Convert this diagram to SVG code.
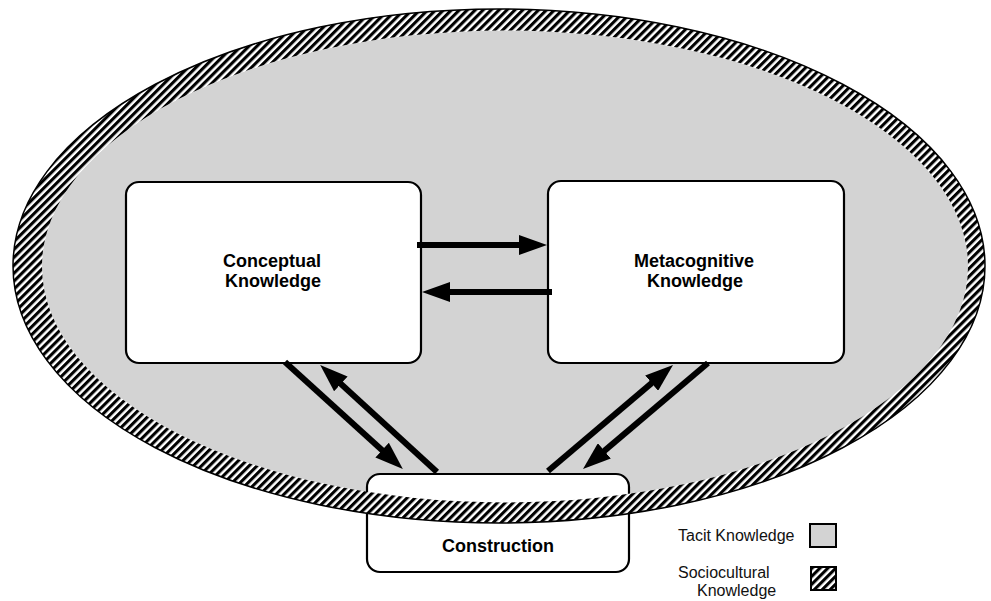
<svg xmlns="http://www.w3.org/2000/svg" width="991" height="601" viewBox="0 0 991 601">
  <defs>
    <!-- diagonal hatch for the sociocultural ring -->
    <pattern id="hatch" patternUnits="userSpaceOnUse" width="5.6" height="5.6" patternTransform="rotate(45)">
      <rect x="0" y="0" width="5.6" height="5.6" fill="#fff"/>
      <rect x="0" y="0" width="3.1" height="5.6" fill="#000"/>
    </pattern>
    <marker id="head" viewBox="0 0 28 20" markerWidth="28" markerHeight="20" refX="12" refY="10" orient="auto" markerUnits="userSpaceOnUse">
      <path d="M0,0 L28,10 L0,20 Z" fill="#000"/>
    </marker>
    <style>
      .box { fill: #fff; stroke: #000; stroke-width: 2.2; }
      .label { font-family: "Liberation Sans", Arial, sans-serif; font-weight: bold; font-size: 18px; fill: #000; text-anchor: middle; }
      .legend { font-family: "Liberation Sans", Arial, sans-serif; font-size: 16px; fill: #111; }
      .arrow { stroke: #000; stroke-width: 6; fill: none; marker-end: url(#head); }
    </style>
  </defs>

  <rect width="991" height="601" fill="#fff"/>

  <!-- tacit knowledge: grey interior -->
  <g id="tacit">
    <ellipse cx="505" cy="266.5" rx="463" ry="236" fill="#d3d3d3"/>
  </g>

  <!-- construction box sits under the hatched ring -->
  <g id="construction">
    <rect class="box" x="367" y="474" width="262" height="98" rx="13"/>
    <text class="label" x="498" y="552">Construction</text>
  </g>

  <!-- sociocultural knowledge: hatched ring -->
  <g id="sociocultural">
    <path fill="url(#hatch)" fill-rule="evenodd"
      d="M13,266 A486,257 0 1,0 985,266 A486,257 0 1,0 13,266 Z
         M42,266.5 A463,236 0 1,0 968,266.5 A463,236 0 1,0 42,266.5 Z"/>
    <ellipse cx="499" cy="266" rx="486" ry="257" fill="none" stroke="#000" stroke-width="1.5"/>
  </g>

  <g id="conceptual">
    <rect class="box" x="126" y="182" width="295" height="181" rx="13"/>
    <text class="label" x="272" y="267">Conceptual</text>
    <text class="label" x="273" y="287">Knowledge</text>
  </g>

  <g id="metacognitive">
    <rect class="box" x="548" y="181" width="296" height="182" rx="13"/>
    <text class="label" x="694" y="267">Metacognitive</text>
    <text class="label" x="695" y="287">Knowledge</text>
  </g>

  <g id="connectors">
    <line class="arrow" x1="417" y1="245" x2="531" y2="245"/>
    <line class="arrow" x1="552" y1="292" x2="438" y2="292"/>
    <line class="arrow" x1="285" y1="362" x2="391" y2="458.2"/>
    <line class="arrow" x1="437" y1="472" x2="332" y2="375.8"/>
    <line class="arrow" x1="548" y1="471" x2="660.8" y2="375.4"/>
    <line class="arrow" x1="708" y1="363" x2="595.2" y2="458.6"/>
  </g>

  <g id="legend">
    <text class="legend" x="678" y="541">Tacit Knowledge</text>
    <rect x="810" y="524" width="26" height="23" fill="#d3d3d3" stroke="#000" stroke-width="2"/>
    <text class="legend" x="678" y="578">Sociocultural</text>
    <text class="legend" x="697" y="596">Knowledge</text>
    <rect x="811" y="567" width="25" height="23" fill="url(#hatch)" stroke="#000" stroke-width="2"/>
  </g>
</svg>
